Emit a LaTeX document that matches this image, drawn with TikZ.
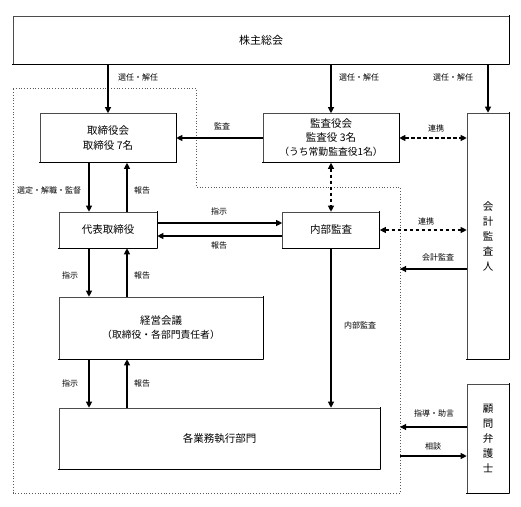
\documentclass[tikz,border=0pt]{standalone}
\usepackage{fontspec}
\newfontfamily\jp{Noto Sans CJK JP}
\usetikzlibrary{arrows.meta}
\begin{document}
\begin{tikzpicture}[x=1pt,y=-1pt,
 box/.style={draw=black!70, line width=0.6pt, inner sep=0pt, align=center,
   font=\jp\fontsize{10.5}{15}\selectfont,
   append after command={(\tikzlastnode.north east) edge[line width=1.3pt, draw=black, shorten <=-0.3pt] (\tikzlastnode.south east)
     (\tikzlastnode.south east) edge[line width=1.3pt, draw=black, shorten >=-0.3pt] (\tikzlastnode.south west)}},
 lbl/.style={font=\jp\fontsize{8}{9}\selectfont, inner sep=0pt},
 arr/.style={line width=1.1pt, -{Triangle[length=6pt,width=6pt]}},
 darr/.style={line width=1.1pt, dash pattern=on 3.5pt off 2.5pt, {Triangle[length=6pt,width=6pt]}-{Triangle[length=6pt,width=6pt]}},
 frame/.style={draw=black!65, line width=0.8pt, dotted},
]
\useasboundingbox (0,0) rectangle (521,506);

% dotted outline of the company
\draw[frame] (13,88) -- (196,88) -- (196,187) -- (400,187) -- (400,493) -- (13,493) -- cycle;

% boxes
\node[box, minimum width=496pt, minimum height=48pt] (sh) at (261,40) {\fontsize{11}{13}\selectfont 株主総会};
\node[box, minimum width=136pt, minimum height=49pt] (tb) at (108,138) {取締役会\\取締役 7名};
\node[box, minimum width=136pt, minimum height=49pt, font=\jp\fontsize{10.5}{14}\selectfont] (ka) at (331,138) {監査役会\\監査役 3名\\{\fontsize{9.8}{14}\selectfont（うち常勤監査役1名）}};
\node[box, minimum width=42pt, minimum height=246pt] (kk) at (488,236) {会\\計\\監\\査\\人};
\node[box, minimum width=98pt, minimum height=36pt] (db) at (108,230) {代表取締役};
\node[box, minimum width=97pt, minimum height=36pt] (nb) at (331,230) {内部監査};
\node[box, minimum width=204pt, minimum height=62pt, font=\jp\fontsize{10.5}{14}\selectfont] (km) at (161,328) {経営会議\\{\fontsize{9.8}{14}\selectfont（取締役・各部門責任者）}};
\node[box, minimum width=321pt, minimum height=61pt] (gb) at (219.5,438.5) {各業務執行部門};
\node[box, minimum width=42pt, minimum height=109pt] (kb) at (488,438.5) {顧\\問\\弁\\護\\士};

% helper coordinates
\coordinate (cL) at (89,0);
\coordinate (cR) at (127,0);
\coordinate (r1) at (0,223);
\coordinate (r2) at (0,236);
\coordinate (p1) at (400,269);
\coordinate (p2) at (400,427);
\coordinate (p3) at (400,456);

% 株主総会 -> 
\draw[arr] (sh.south -| tb.north) -- (tb.north);
\draw[arr] (sh.south -| ka.north) -- (ka.north);
\draw[arr] (sh.south -| kk.north) -- (kk.north);
\node[lbl] at (138,77) {選任・解任};
\node[lbl] at (359,77) {選任・解任};
\node[lbl] at (453,77) {選任・解任};

% 監査
\draw[arr] (ka.west) -- (tb.east);
\node[lbl] at (222,126) {監査};

% 連携
\draw[darr] (ka.east) -- (kk.west |- ka.east);
\node[lbl] at (436,128) {連携};
\draw[darr] (ka.south) -- (nb.north);
\draw[darr] (nb.east) -- (kk.west |- nb.east);
\node[lbl] at (426,221) {連携};

% 取締役会 <-> 代表取締役
\draw[arr] (tb.south -| cL) -- (db.north -| cL);
\draw[arr] (db.north -| cR) -- (tb.south -| cR);
\node[lbl] at (49,190) {選定・解職・監督};
\node[lbl] at (142,190) {報告};

% 代表取締役 <-> 内部監査
\draw[arr] (db.east |- r1) -- (nb.west |- r1);
\draw[arr] (nb.west |- r2) -- (db.east |- r2);
\node[lbl] at (219,211) {指示};
\node[lbl] at (219,245) {報告};

% 代表取締役 <-> 経営会議
\draw[arr] (db.south -| cL) -- (km.north -| cL);
\draw[arr] (km.north -| cR) -- (db.south -| cR);
\node[lbl] at (70,275) {指示};
\node[lbl] at (142,275) {報告};

% 経営会議 <-> 各業務執行部門
\draw[arr] (km.south -| cL) -- (gb.north -| cL);
\draw[arr] (gb.north -| cR) -- (km.south -| cR);
\node[lbl] at (70,383) {指示};
\node[lbl] at (142,383) {報告};

% 内部監査 -> 各業務執行部門
\draw[arr] (nb.south) -- (gb.north -| nb.south);
\node[lbl] at (360,325) {内部監査};

% 会計監査
\draw[arr] (kk.west |- p1) -- (p1);
\node[lbl] at (438,257) {会計監査};

% 顧問弁護士
\draw[arr] (kb.west |- p2) -- (p2);
\node[lbl] at (434,413) {指導・助言};
\draw[arr] (p3) -- (kb.west |- p3);
\node[lbl] at (433,446) {相談};
\end{tikzpicture}
\end{document}
